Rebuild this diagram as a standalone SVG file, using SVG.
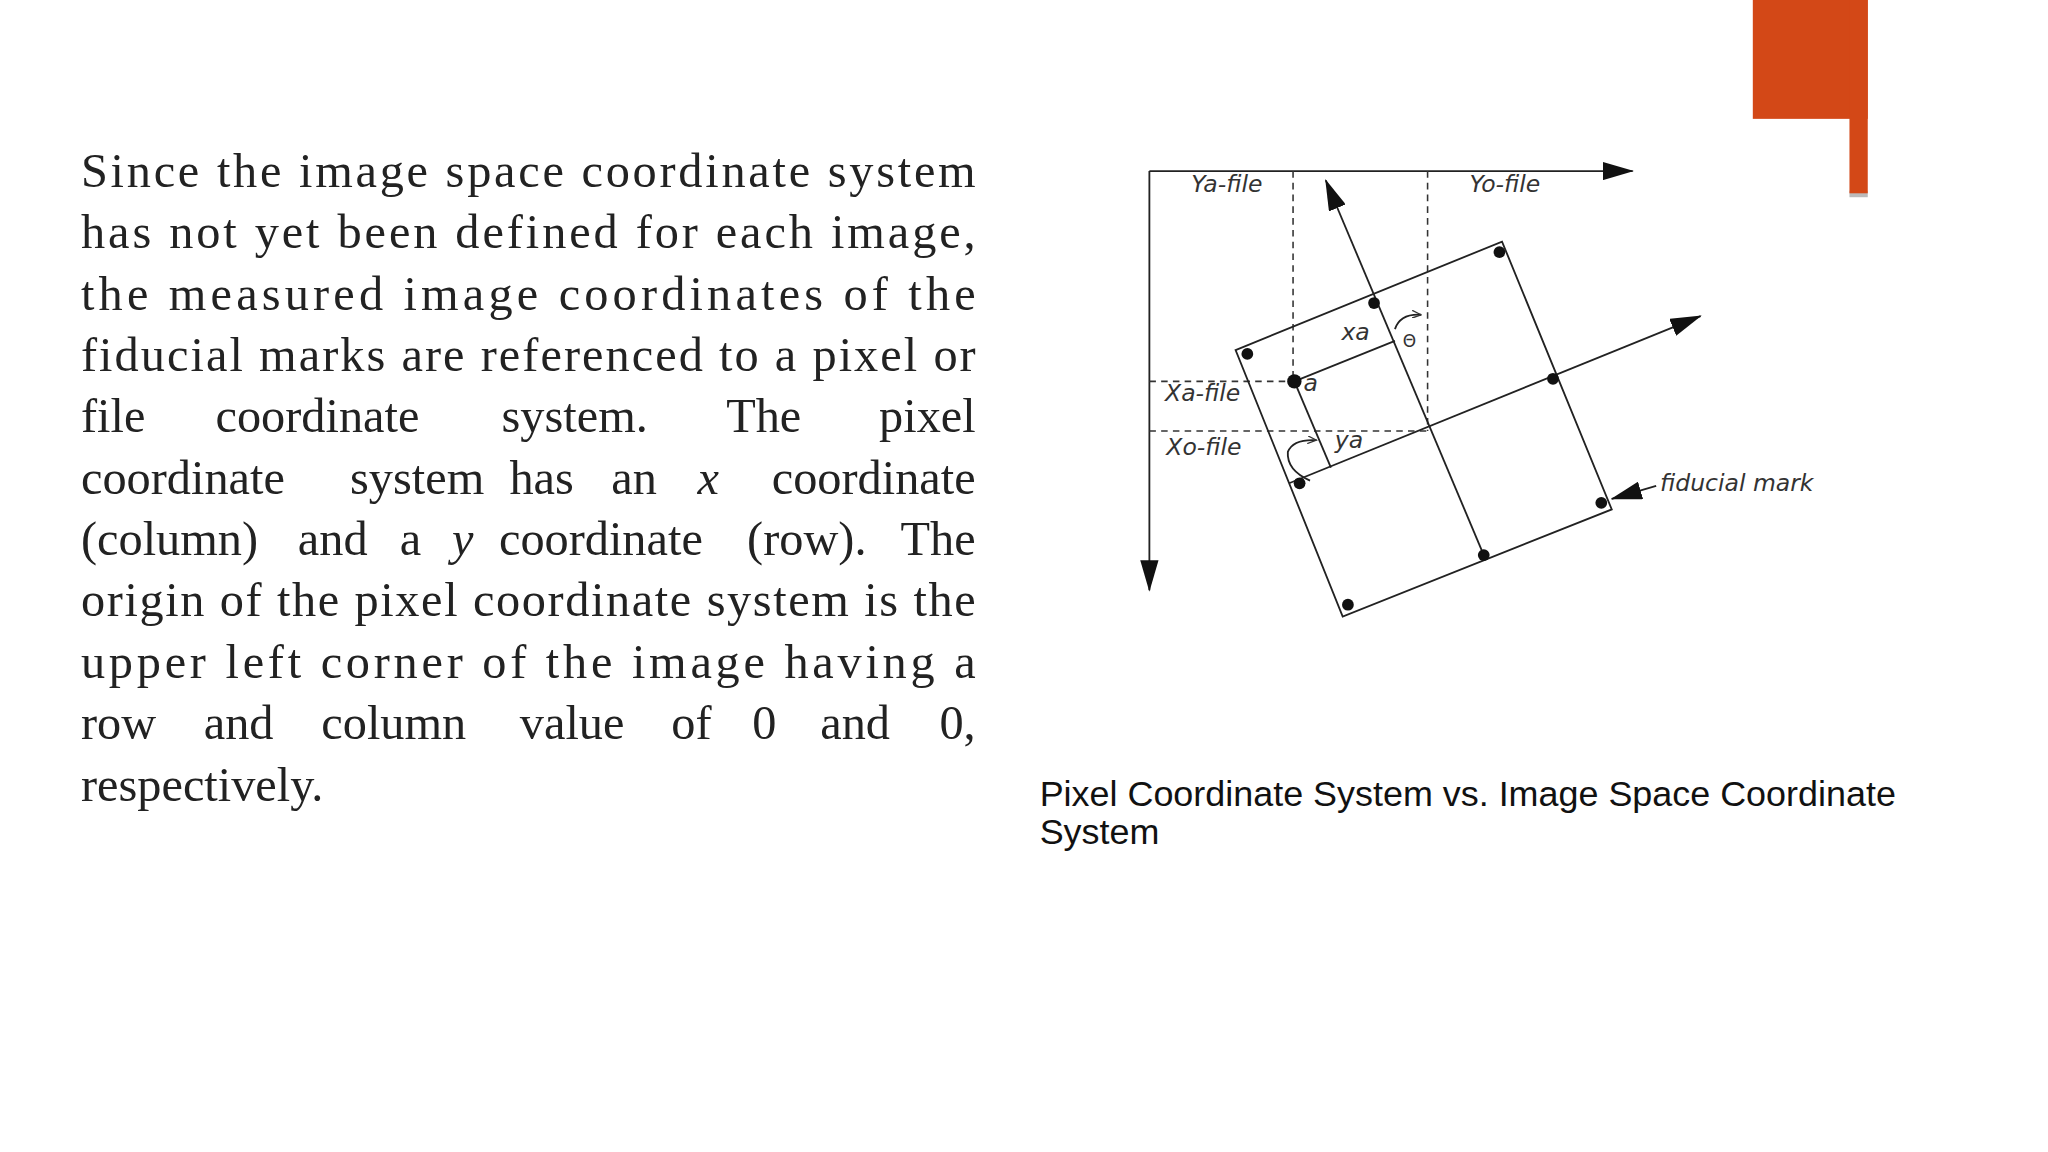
<svg xmlns="http://www.w3.org/2000/svg" width="2048" height="1152" viewBox="0 0 2048 1152">
<style>
.body{font-family:"Liberation Serif",serif;font-size:37px;fill:#222}
.lbl{font-family:"DejaVu Sans","Liberation Sans",sans-serif;font-style:italic;font-size:18px;fill:#333}
.ln{stroke:#222;stroke-width:1.4;fill:none}
.dash{stroke:#333;stroke-width:1.2;stroke-dasharray:5,4;fill:none}
.cap{font-family:"Liberation Sans",Arial,sans-serif;font-size:27.5px;fill:#111}
</style>
<defs>
<marker id="ahb" markerWidth="24" markerHeight="14" refX="23" refY="7" orient="auto" markerUnits="userSpaceOnUse" viewBox="0 0 24 14"><path d="M0,0 L24,7 L0,14 z" fill="#111"/></marker>
<marker id="sm" markerWidth="8" markerHeight="6" refX="7" refY="3" orient="auto" markerUnits="userSpaceOnUse"><path d="M0,0 L7,3 L0,6" fill="none" stroke="#333" stroke-width="1"/></marker>
</defs>
<rect width="2048" height="1152" fill="#fff"/>
<g transform="scale(1.30612)">
<g id="accent">
<rect x="1416" y="146" width="14" height="5" fill="#bbb"/>
<rect x="1342" y="0" width="88" height="91" fill="#D34817"/>
<rect x="1416" y="0" width="14" height="148" fill="#D34817"/>
</g>
<g id="text" class="body">
<text x="62" y="143" textLength="685" lengthAdjust="spacing">Since the image space coordinate system</text>
<text x="62" y="190" textLength="685" lengthAdjust="spacing">has not yet been defined for each image,</text>
<text x="62" y="237" textLength="685" lengthAdjust="spacing">the measured image coordinates of the</text>
<text x="62" y="284" textLength="685" lengthAdjust="spacing">fiducial marks are referenced to a pixel or</text>
<text y="331"><tspan x="62">file</tspan><tspan x="165">coordinate</tspan><tspan x="384">system.</tspan><tspan x="556">The</tspan><tspan x="747" text-anchor="end">pixel</tspan></text>
<text y="378"><tspan x="62">coordinate</tspan><tspan x="268">system</tspan><tspan x="390">has</tspan><tspan x="468">an</tspan><tspan x="534" font-style="italic">x</tspan><tspan x="747" text-anchor="end">coordinate</tspan></text>
<text y="425"><tspan x="62">(column)</tspan><tspan x="228">and</tspan><tspan x="306">a</tspan><tspan x="346" font-style="italic">y</tspan><tspan x="382">coordinate</tspan><tspan x="572">(row).</tspan><tspan x="747" text-anchor="end">The</tspan></text>
<text x="62" y="472" textLength="685" lengthAdjust="spacing">origin of the pixel coordinate system is the</text>
<text x="62" y="519" textLength="685" lengthAdjust="spacing">upper left corner of the image having a</text>
<text y="566"><tspan x="62">row</tspan><tspan x="156">and</tspan><tspan x="246">column</tspan><tspan x="398">value</tspan><tspan x="514">of</tspan><tspan x="576">0</tspan><tspan x="628">and</tspan><tspan x="747" text-anchor="end">0,</tspan></text>
<text x="62" y="613">respectively.</text>
</g>
<g id="connectors">
<line class="ln" x1="880" y1="131" x2="1250" y2="131" marker-end="url(#ahb)"/>
<line class="ln" x1="880" y1="131" x2="880" y2="452" marker-end="url(#ahb)"/>
<line class="dash" x1="990" y1="131" x2="990" y2="292"/>
<line class="dash" x1="1093" y1="131" x2="1093" y2="330"/>
<line class="dash" x1="880" y1="292" x2="990" y2="292"/>
<line class="dash" x1="880" y1="330" x2="1093" y2="330"/>
<polygon class="ln" points="946,268 1150,185 1234,390 1028,472"/>
<line class="ln" x1="1136" y1="425" x2="1015" y2="138" marker-end="url(#ahb)"/>
<line class="ln" x1="987" y1="370" x2="1302" y2="242" marker-end="url(#ahb)"/>
<line class="ln" x1="991" y1="292" x2="1068" y2="261"/>
<line class="ln" x1="991" y1="292" x2="1019" y2="358"/>
<path class="ln" d="M1068,252 Q1072,240 1088,241" marker-end="url(#sm)" stroke-width="1"/>
<path class="ln" d="M1003,368 Q985,360 986,346 Q990,336 1008,337" marker-end="url(#sm)" stroke-width="1"/>
<line class="ln" x1="1268" y1="372" x2="1234" y2="382" marker-end="url(#ahb)"/>
</g>
<g id="dots" fill="#111">
<circle cx="955" cy="271" r="4.5"/><circle cx="1148" cy="193" r="4.5"/><circle cx="1052" cy="232" r="4.5"/>
<circle cx="1189" cy="290" r="4.5"/><circle cx="1226" cy="385" r="4.5"/><circle cx="1136" cy="425" r="4.5"/>
<circle cx="1032" cy="463" r="4.5"/><circle cx="995" cy="370" r="4.5"/><circle cx="991" cy="292" r="5.5"/>
</g>
<g id="labels" class="lbl">
<text x="912" y="147">Ya-file</text>
<text x="1125" y="147">Yo-file</text>
<text x="892" y="307">Xa-file</text>
<text x="893" y="348">Xo-file</text>
<text x="1027" y="260">xa</text>
<text x="1074" y="266" font-size="13" font-style="normal">Θ</text>
<text x="998" y="299">a</text>
<text x="1022" y="343">ya</text>
<text x="1271" y="376">fiducial mark</text>
</g>
<g id="caption" class="cap">
<text x="796" y="617">Pixel Coordinate System vs. Image Space Coordinate</text>
<text x="796" y="646">System</text>
</g>
</g>
</svg>
